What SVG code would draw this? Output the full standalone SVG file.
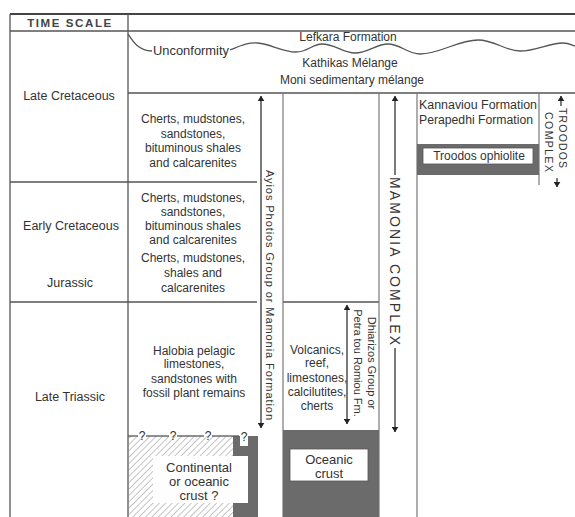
<svg xmlns="http://www.w3.org/2000/svg" width="575" height="517" viewBox="0 0 575 517">
<style>
.ln{stroke:#555;stroke-width:1.3;fill:none}
.lt{stroke:#777;stroke-width:1.2;fill:none}
.ar{stroke:#333;stroke-width:1.3;fill:none}
.t{font-family:"Liberation Sans",Arial,sans-serif;font-size:12px;fill:#333;text-anchor:middle}
.s{font-size:11px}
.l{text-anchor:start}
.grey{fill:#6b6b6b}
.wb{fill:#fff;stroke:#555;stroke-width:0.8}
</style>
<defs>
<marker id="ah" viewBox="0 0 8 10" refX="7.5" refY="5" markerWidth="5.5" markerHeight="7" orient="auto-start-reverse" markerUnits="userSpaceOnUse"><path d="M0,0 L8,5 L0,10 Z" fill="#222"/></marker>
<pattern id="hatch" width="4.5" height="4.5" patternUnits="userSpaceOnUse" patternTransform="rotate(45)"><line x1="0" y1="0" x2="0" y2="4.5" stroke="#8a8a8a" stroke-width="1"/></pattern>
</defs>
<rect width="575" height="517" fill="#fff"/>

<g id="frame">
<line class="ln" x1="10" y1="14" x2="575" y2="14" style="stroke-width:1.8;stroke:#444"/>
<line class="ln" x1="10" y1="31" x2="575" y2="31"/>
<line class="ln" x1="10" y1="14" x2="10" y2="517"/>
<line class="ln" x1="128" y1="14" x2="128" y2="517"/>
<line class="ln" x1="128" y1="93" x2="575" y2="93"/>
<line class="ln" x1="10" y1="182" x2="257" y2="182"/>
<line class="ln" x1="10" y1="302" x2="257" y2="302"/>
<line class="ln" x1="283" y1="302" x2="379" y2="302"/>
<line class="lt" x1="283" y1="93" x2="283" y2="517"/>
<line class="lt" x1="379" y1="93" x2="379" y2="517"/>
<line class="lt" x1="417" y1="93" x2="417" y2="517"/>
<line class="lt" x1="539" y1="93" x2="539" y2="185"/>
</g>

<g id="timescale">
<text class="t" x="70" y="27" style="font-size:11.5px;font-weight:bold;letter-spacing:1.6px;fill:#444">TIME SCALE</text>
<text class="t" x="69" y="100" style="font-size:12.5px">Late Cretaceous</text>
<text class="t" x="71" y="230" style="font-size:12.5px">Early Cretaceous</text>
<text class="t" x="70" y="287" style="font-size:12.5px">Jurassic</text>
<text class="t" x="70" y="401" style="font-size:12.5px">Late Triassic</text>
</g>

<g id="unconformity">
<path class="ln" d="M128,34 C132,40 138,51 152,51"/>
<text class="t" x="191" y="55" textLength="76" lengthAdjust="spacingAndGlyphs">Unconformity</text>
<path class="ln" d="M230,50 C240,46 248,42 258,43 C270,44 283,52 296,52 C308,52 312,44 322,44 C335,44 343,53 355,53 C368,53 376,44 388,44 C400,44 408,54 420,54 C440,54 458,40 478,40 C495,40 505,51 520,51 C537,51 548,43 563,43 C568,43 572,45 575,46"/>
<text class="t" x="348" y="41">Lefkara Formation</text>
<text class="t" x="350" y="67">Kathikas Mélange</text>
<text class="t" x="352" y="84">Moni sedimentary mélange</text>
</g>

<g id="colA-upper">
<text class="t"><tspan x="193" y="123">Cherts, mudstones,</tspan><tspan x="193" y="138">sandstones,</tspan><tspan x="193" y="152">bituminous shales</tspan><tspan x="193" y="167">and calcarenites</tspan></text>
</g>
<g id="colA-early">
<text class="t"><tspan x="193" y="202">Cherts, mudstones,</tspan><tspan x="193" y="216">sandstones,</tspan><tspan x="193" y="230">bituminous shales</tspan><tspan x="193" y="244">and calcarenites</tspan></text>
</g>
<g id="colA-jurassic">
<text class="t"><tspan x="193" y="262">Cherts, mudstones,</tspan><tspan x="193" y="277">shales and</tspan><tspan x="193" y="292">calcarenites</tspan></text>
</g>
<g id="colA-triassic">
<text class="t"><tspan x="194" y="355">Halobia pelagic</tspan><tspan x="194" y="368">limestones,</tspan><tspan x="194" y="383">sandstones with</tspan><tspan x="194" y="397">fossil plant remains</tspan></text>
</g>

<g id="continental-crust">
<rect x="128" y="436" width="105" height="81" fill="url(#hatch)"/>
<rect class="grey" x="233" y="436" width="25" height="81"/>
<rect x="240" y="436" width="8" height="10" fill="#fff"/>
<rect x="153" y="456" width="95" height="47" fill="#fff"/>
<line class="ln" x1="128" y1="436" x2="138" y2="436"/>
<line class="ln" x1="146" y1="436" x2="169" y2="436"/>
<line class="ln" x1="177" y1="436" x2="204" y2="436"/>
<line class="ln" x1="212" y1="436" x2="239" y2="436"/>
<text class="t" x="142" y="440">?</text>
<text class="t" x="173" y="440">?</text>
<text class="t" x="208" y="440">?</text>
<text class="t" x="244" y="441">?</text>
<text class="t" style="font-size:13px"><tspan x="199" y="472">Continental</tspan><tspan x="199" y="486">or oceanic</tspan><tspan x="199" y="500">crust ?</tspan></text>
</g>

<g id="ayios-photios">
<text class="t s" transform="translate(266,295) rotate(90)" textLength="250" lengthAdjust="spacing">Ayios Photios Group or Mamonia Formation</text>
</g>

<g id="dhiarizos">
<text class="t"><tspan x="317" y="354">Volcanics,</tspan><tspan x="317" y="367">reef,</tspan><tspan x="317" y="382">limestones,</tspan><tspan x="317" y="396">calcilutites,</tspan><tspan x="317" y="410">cherts</tspan></text>
<text class="t s" transform="translate(368,363) rotate(90)">Dhiarizos Group or</text>
<text class="t s" transform="translate(354,363) rotate(90)">Petra tou Romiou Fm.</text>
</g>

<g id="oceanic-crust">
<rect class="grey" x="283" y="430" width="96" height="87"/>
<rect class="wb" x="290" y="449" width="78" height="32"/>
<text class="t" style="font-size:13px"><tspan x="329" y="464">Oceanic</tspan><tspan x="329" y="478">crust</tspan></text>
</g>

<g id="mamonia">
<text class="t" transform="translate(390,261) rotate(90)" style="font-size:14px" textLength="168" lengthAdjust="spacing">MAMONIA COMPLEX</text>
</g>

<g id="troodos">
<text class="t l" x="419" y="109" textLength="118" lengthAdjust="spacingAndGlyphs">Kannaviou Formation</text>
<text class="t l" x="419" y="124" textLength="114" lengthAdjust="spacingAndGlyphs">Perapedhi Formation</text>
<rect class="grey" x="417" y="144" width="122" height="31"/>
<rect class="wb" x="423" y="148" width="110" height="16"/>
<text class="t" x="479" y="160">Troodos ophiolite</text>
<text class="t s" transform="translate(559,138) rotate(90)" style="font-size:10.5px" textLength="60" lengthAdjust="spacing">TROODOS</text>
<text class="t s" transform="translate(545,142) rotate(90)" style="font-size:10.5px" textLength="60" lengthAdjust="spacing">COMPLEX</text>
</g>

<g id="connectors">
<line class="ar" x1="261" y1="96" x2="261" y2="428" marker-start="url(#ah)" marker-end="url(#ah)"/>
<line class="ar" x1="347" y1="305" x2="347" y2="424" marker-start="url(#ah)" marker-end="url(#ah)"/>
<line class="ar" x1="395" y1="96" x2="395" y2="175" marker-start="url(#ah)"/>
<line class="ar" x1="395" y1="348" x2="395" y2="432" marker-end="url(#ah)"/>
<line class="ar" x1="561" y1="96" x2="561" y2="106" marker-start="url(#ah)"/>
<line class="ar" x1="557" y1="178" x2="557" y2="187" marker-end="url(#ah)"/>
</g>
</svg>
